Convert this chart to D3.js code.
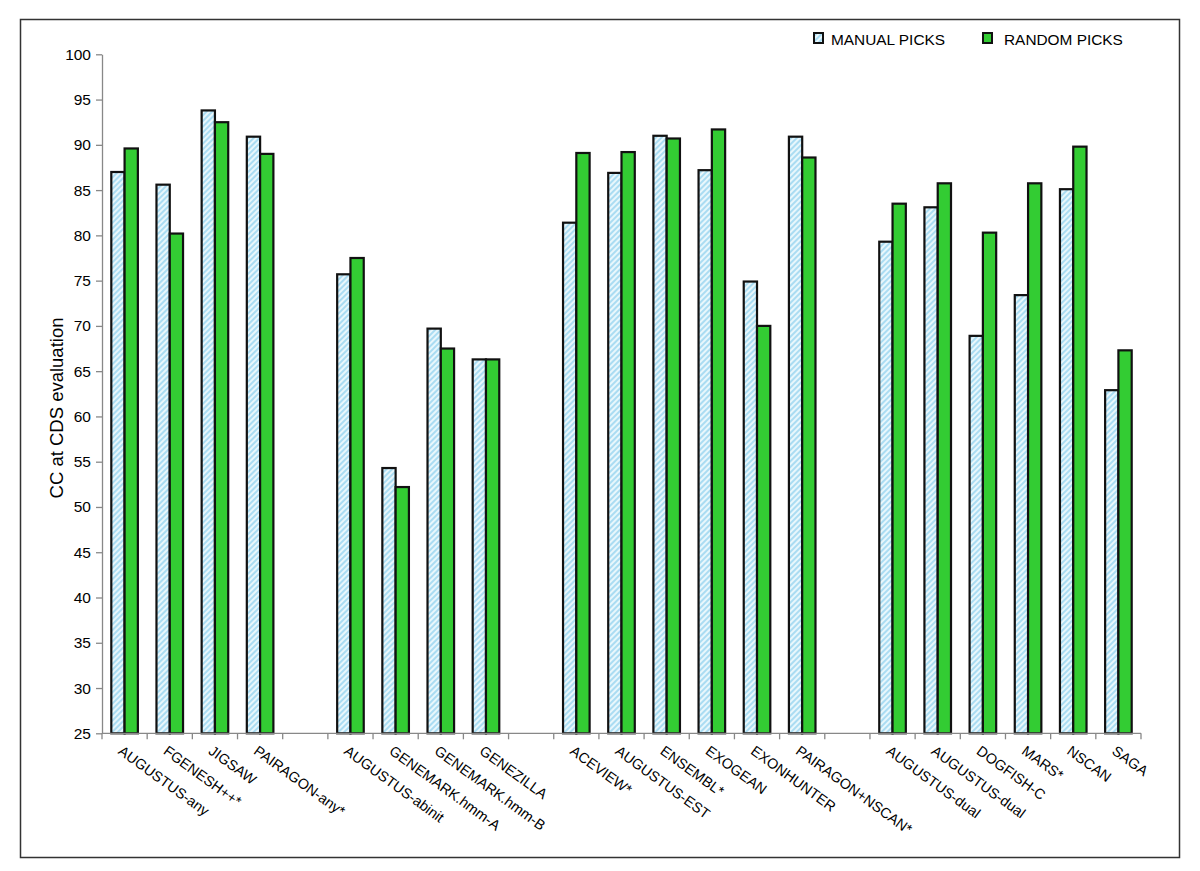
<!DOCTYPE html>
<html>
<head>
<meta charset="utf-8">
<script src="https://cdn.jsdelivr.net/npm/d3@7"></script>
<style>
  body { margin: 0; background: #fff; }
  svg { display: block; font-family: 'Liberation Sans', Arial, sans-serif; }
</style>
</head>
<body>
<svg id="chart" width="1200" height="871"></svg>
<script>
// categories per group, groups separated by an empty slot
const groups = [
  ['AUGUSTUS-any', 'FGENESH++*', 'JIGSAW', 'PAIRAGON-any*'],
  ['AUGUSTUS-abinit', 'GENEMARK.hmm-A', 'GENEMARK.hmm-B', 'GENEZILLA'],
  ['ACEVIEW*', 'AUGUSTUS-EST', 'ENSEMBL*', 'EXOGEAN', 'EXONHUNTER', 'PAIRAGON+NSCAN*'],
  ['AUGUSTUS-dual', 'AUGUSTUS-dual', 'DOGFISH-C', 'MARS*', 'NSCAN', 'SAGA']
];
const manualPicks = [87.0, 85.6, 93.8, 90.9, 75.7, 54.3, 69.7, 66.3, 81.4, 86.9, 91.0, 87.2, 74.9, 90.9, 79.3, 83.1, 68.9, 73.4, 85.1, 62.9];
const randomPicks = [89.6, 80.2, 92.5, 89.0, 77.5, 52.2, 67.5, 66.3, 89.1, 89.2, 90.7, 91.7, 70.0, 88.6, 83.5, 85.75, 80.3, 85.75, 89.8, 67.3];
const yTicks = d3.range(25, 101, 5);
const seriesNames = ['MANUAL PICKS', 'RANDOM PICKS'];

const greenColor = '#33cc33';

// build slots: each category plus a gap slot between groups
const slots = [];
let k = 0;
groups.forEach((g, gi) => {
  g.forEach(name => {
    slots.push({ id: 's' + slots.length, name: name, manual: manualPicks[k], random: randomPicks[k] });
    k++;
  });
  if (gi < groups.length - 1) slots.push({ id: 's' + slots.length, name: null });
});

const svg = d3.select('#chart');
const plotLeft = 102, plotRight = 1141, plotTop = 54.3, plotBottom = 733.3;

// frame around the whole chart
svg.append('rect')
  .attr('x', 20.5).attr('y', 19.5)
  .attr('width', 1159).attr('height', 838)
  .attr('fill', 'none')
  .attr('stroke', '#333')
  .attr('stroke-width', 1.5);

// hatch pattern for manual picks
const defs = svg.append('defs');
const pat = defs.append('pattern')
  .attr('id', 'hatch')
  .attr('patternUnits', 'userSpaceOnUse')
  .attr('width', 4).attr('height', 4)
  .attr('patternTransform', 'rotate(45)');
pat.append('rect').attr('width', 4).attr('height', 4).attr('fill', '#e8f7fc');
pat.append('rect').attr('width', 2).attr('height', 4).attr('fill', '#aadcf2');

const x0 = d3.scaleBand()
  .domain(slots.map(d => d.id))
  .range([plotLeft, plotRight])
  .paddingInner(0)
  .paddingOuter(0);

const x1 = d3.scaleBand()
  .domain(['manual', 'random'])
  .range([0, x0.bandwidth()])
  .paddingInner(0)
  .paddingOuter(0.7);

const y = d3.scaleLinear()
  .domain([25, 100])
  .range([plotBottom, plotTop]);

// y axis
const yAxis = svg.append('g')
  .attr('transform', `translate(${plotLeft},0)`)
  .call(d3.axisLeft(y).tickValues(yTicks).tickSize(6).tickSizeOuter(0).tickPadding(5));
yAxis.select('.domain').attr('stroke', '#888').attr('stroke-width', 1.3);
yAxis.selectAll('.tick line').attr('stroke', '#888').attr('stroke-width', 1.3);
yAxis.selectAll('.tick text')
  .attr('font-size', 15.5)
  .attr('fill', '#000')
  .attr('font-family', "'Liberation Sans', Arial, sans-serif");

svg.append('text')
  .attr('transform', `translate(63,408) rotate(-90)`)
  .attr('text-anchor', 'middle')
  .attr('font-size', 18.5)
  .text('CC at CDS evaluation');

// bars
const barData = slots.filter(d => d.name !== null);
const gBars = svg.append('g');
barData.forEach(d => {
  gBars.append('rect')
    .attr('x', x0(d.id) + x1('manual'))
    .attr('y', y(d.manual))
    .attr('width', x1.bandwidth())
    .attr('height', y(25) - y(d.manual))
    .attr('fill', 'url(#hatch)')
    .attr('stroke', '#111')
    .attr('stroke-width', 2.2);
  gBars.append('rect')
    .attr('x', x0(d.id) + x1('random'))
    .attr('y', y(d.random))
    .attr('width', x1.bandwidth())
    .attr('height', y(25) - y(d.random))
    .attr('fill', greenColor)
    .attr('stroke', '#111')
    .attr('stroke-width', 2.2);
});

// x axis with ticks at slot boundaries
const xAxis = svg.append('g');
xAxis.append('line')
  .attr('x1', plotLeft).attr('x2', plotRight)
  .attr('y1', plotBottom).attr('y2', plotBottom)
  .attr('stroke', '#888').attr('stroke-width', 1.3);
const bounds = slots.map(d => x0(d.id)).concat([plotRight]);
xAxis.selectAll('.xt')
  .data(bounds)
  .enter().append('line')
  .attr('x1', d => d).attr('x2', d => d)
  .attr('y1', plotBottom).attr('y2', plotBottom + 6)
  .attr('stroke', '#888').attr('stroke-width', 1.3);

xAxis.selectAll('.xl')
  .data(barData)
  .enter().append('text')
  .attr('transform', d => `translate(${x0(d.id) + x0.bandwidth() / 2 - 1},${plotBottom + 11}) rotate(36)`)
  .attr('dy', '0.75em')
  .attr('font-size', 14.4)
  .attr('text-anchor', 'start')
  .text(d => d.name);

// legend
const legend = svg.append('g');
const legendX = [814, 983];
const legendTextX = [831, 1004];
seriesNames.forEach((name, i) => {
  legend.append('rect')
    .attr('x', legendX[i]).attr('y', 33)
    .attr('width', 9).attr('height', 10)
    .attr('fill', i === 0 ? 'url(#hatch)' : greenColor)
    .attr('stroke', '#111')
    .attr('stroke-width', 2);
  legend.append('text')
    .attr('x', legendTextX[i]).attr('y', 44.5)
    .attr('font-size', 15.4)
    .text(name);
});
</script>
</body>
</html>
